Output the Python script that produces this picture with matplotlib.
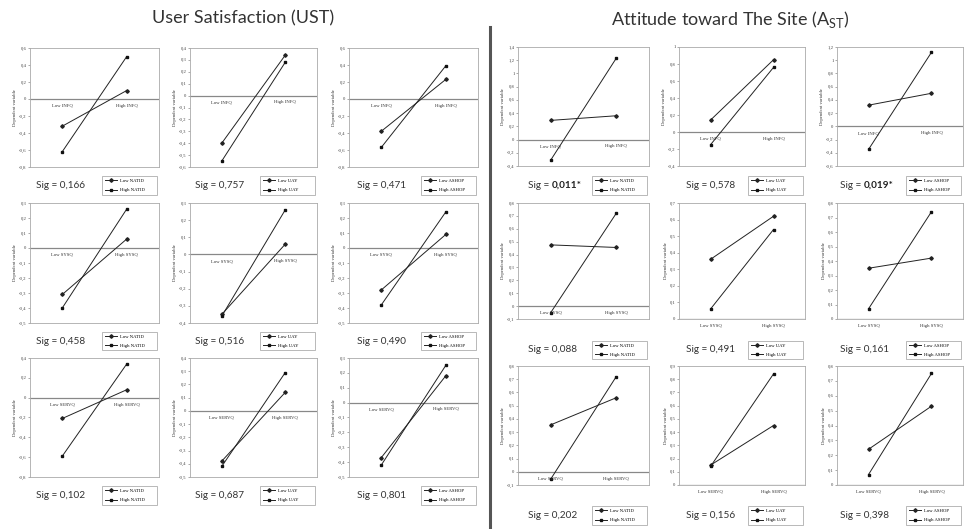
import matplotlib
matplotlib.use("Agg")
import matplotlib.pyplot as plt
from matplotlib.lines import Line2D
import numpy as np

plt.rcParams['mathtext.fontset'] = 'custom'
plt.rcParams['mathtext.rm'] = 'Lato'
plt.rcParams['mathtext.bf'] = 'Lato:bold'

# ---------------- data ----------------
ust_title = "User Satisfaction (UST)"
ast_title = r"Attitude toward The Site (A$_{\mathrm{ST}}$)"
row_vars = ["INFQ", "SYSQ", "SERVQ"]
col_mods = ["NATID", "UAY", "ASHOP"]

# each entry: [value at Low X, value at High X]
ust_low = [[[-0.32, 0.10], [-0.40, 0.34], [-0.38, 0.23]],
           [[-0.31, 0.06], [-0.35, 0.06], [-0.28, 0.09]],
           [[-0.21, 0.08], [-0.38, 0.14], [-0.37, 0.18]]]
ust_high = [[[-0.62, 0.50], [-0.55, 0.28], [-0.57, 0.39]],
            [[-0.40, 0.26], [-0.36, 0.26], [-0.38, 0.24]],
            [[-0.59, 0.34], [-0.42, 0.29], [-0.42, 0.25]]]
ust_yrange = [[(-0.8, 0.6, 0.2), (-0.6, 0.4, 0.1), (-0.8, 0.6, 0.2)],
              [(-0.5, 0.3, 0.1), (-0.4, 0.3, 0.1), (-0.5, 0.3, 0.1)],
              [(-0.8, 0.4, 0.2), (-0.5, 0.4, 0.1), (-0.5, 0.3, 0.1)]]
ust_sig = [["0,166", "0,757", "0,471"],
           ["0,458", "0,516", "0,490"],
           ["0,102", "0,687", "0,801"]]

ast_low = [[[0.29, 0.36], [0.14, 0.85], [0.32, 0.50]],
           [[0.475, 0.455], [0.36, 0.62], [0.35, 0.42]],
           [[0.355, 0.56], [0.15, 0.45], [0.24, 0.53]]]
ast_high = [[[-0.31, 1.23], [-0.15, 0.76], [-0.35, 1.12]],
            [[-0.05, 0.72], [0.06, 0.54], [0.07, 0.74]],
            [[-0.055, 0.72], [0.14, 0.84], [0.07, 0.75]]]
ast_yrange = [[(-0.4, 1.4, 0.2), (-0.4, 1.0, 0.2), (-0.6, 1.2, 0.2)],
              [(-0.1, 0.8, 0.1), (0.0, 0.7, 0.1), (0.0, 0.8, 0.1)],
              [(-0.1, 0.8, 0.1), (0.0, 0.9, 0.1), (0.0, 0.8, 0.1)]]
ast_sig = [["0,011*", "0,578", "0,019*"],
           ["0,088", "0,491", "0,161"],
           ["0,202", "0,156", "0,398"]]
ast_sig_bold = [[True, False, True], [False, False, False], [False, False, False]]

# ---------------- layout (pixels) ----------------
W, H = 965, 529
fig = plt.figure(figsize=(W / 100, H / 100), dpi=100)
fig.patch.set_facecolor('white')

SERIF = 'Liberation Serif'
SANS = 'Lato'


def rect(x0, y0, x1, y1):
    return [x0 / W, 1 - y1 / H, (x1 - x0) / W, (y1 - y0) / H]


def fmt(v):
    if abs(v) < 1e-9:
        return "0"
    s = f"{v:.1f}".rstrip('0').rstrip('.')
    return s.replace('.', ',')


ust_cols = [(30, 159), (190, 317), (349, 478)]
ust_rows = [(48, 167), (203, 323), (358, 477)]
ust_leg_rows = [(175, 196), (331, 351), (485, 506)]
ust_sig_x = [36, 195, 357]

ast_cols = [(518, 649), (679, 805), (837, 963)]
ast_rows = [(47, 166), (203, 319), (366, 485)]
ast_leg_rows = [(175, 196), (340, 360), (505, 526)]
ast_sig_x = [528, 686, 840]


def panel(box, low, high, yr, xvar, mod, legbox, sigxy, sig, bold):
    ax = fig.add_axes(rect(*box))
    lo, hi, st = yr
    ax.set_xlim(0.5, 2.5)
    ax.set_ylim(lo, hi)
    ticks = np.round(np.arange(lo, hi + st / 2, st), 2)
    ax.set_yticks(ticks)
    ax.set_yticklabels([fmt(t) for t in ticks], fontsize=3.4, family=SERIF, color='#444')
    ax.set_xticks([])
    ax.tick_params(axis='y', length=1.5, width=0.5, color='#888', pad=1)
    for s in ax.spines.values():
        s.set_color('#aaa')
        s.set_linewidth(0.6)
    ax.axhline(0, color='#888', lw=0.9, zorder=1)
    ax.set_ylabel("Dependent variable", fontsize=3.4, family=SERIF, labelpad=1.5, color='#333')
    xs = [1, 2]
    l1, = ax.plot(xs, low, color='#222', lw=0.7, marker='D', ms=1.8, mfc='#222', mec='#222', zorder=3)
    l2, = ax.plot(xs, high, color='#222', lw=0.7, marker='s', ms=2.0, mfc='#111', mec='#111', zorder=3)
    for x, lab in zip(xs, ["Low " + xvar, "High " + xvar]):
        ax.annotate(lab, xy=(x, 0), xytext=(0, -3.5), textcoords='offset points',
                    ha='center', va='top', fontsize=3.4, family=SERIF, color='#333',
                    annotation_clip=False)
    lx0, lx1, ly0, ly1 = legbox
    leg = ax.legend([l1, l2], ["Low " + mod, "High " + mod], loc='center',
                    bbox_to_anchor=(lx0 / W, 1 - ly1 / H, (lx1 - lx0) / W, (ly1 - ly0) / H),
                    bbox_transform=fig.transFigure, mode='expand', frameon=True,
                    fancybox=False, edgecolor='#999', handlelength=2.6,
                    borderpad=0.55, labelspacing=1.0, handletextpad=0.6,
                    prop={'family': SERIF, 'size': 3.4})
    leg.get_frame().set_linewidth(0.6)
    sx, sy = sigxy
    t1 = fig.text(sx / W, 1 - sy / H, "Sig = " if bold else "Sig = " + sig, ha='left',
                  va='center', fontsize=7.2, family=SANS, color='#333')
    if bold:
        ax.annotate(sig, xy=(1, 0.5), xycoords=t1, ha='left', va='center',
                    fontsize=7.2, family=SANS, fontweight='bold', color='#222',
                    annotation_clip=False)
    return ax


for r in range(3):
    for c in range(3):
        box = (ust_cols[c][0], ust_rows[r][0], ust_cols[c][1], ust_rows[r][1])
        legbox = (ust_cols[c][1] - 59, ust_cols[c][1], ust_leg_rows[r][0], ust_leg_rows[r][1])
        sigxy = (ust_sig_x[c], (ust_leg_rows[r][0] + ust_leg_rows[r][1]) / 2)
        panel(box, ust_low[r][c], ust_high[r][c], ust_yrange[r][c], row_vars[r], col_mods[c],
              legbox, sigxy, ust_sig[r][c], False)

        box = (ast_cols[c][0], ast_rows[r][0], ast_cols[c][1], ast_rows[r][1])
        legbox = (ast_cols[c][1] - 59, ast_cols[c][1], ast_leg_rows[r][0], ast_leg_rows[r][1])
        sigxy = (ast_sig_x[c], (ast_leg_rows[r][0] + ast_leg_rows[r][1]) / 2)
        panel(box, ast_low[r][c], ast_high[r][c], ast_yrange[r][c], row_vars[r], col_mods[c],
              legbox, sigxy, ast_sig[r][c], ast_sig_bold[r][c])

fig.text(243 / W, 1 - 18 / H, ust_title, ha='center', va='center', fontsize=13,
         family=SANS, color='#333')
fig.text(730 / W, 1 - 19 / H, ast_title, ha='center', va='center', fontsize=13,
         family=SANS, color='#333')
fig.add_artist(Line2D([490 / W, 490 / W], [1 - 27 / H, 0], transform=fig.transFigure,
                      color='#555', lw=2.2))

fig.savefig("out.png", dpi=100, facecolor='white')
